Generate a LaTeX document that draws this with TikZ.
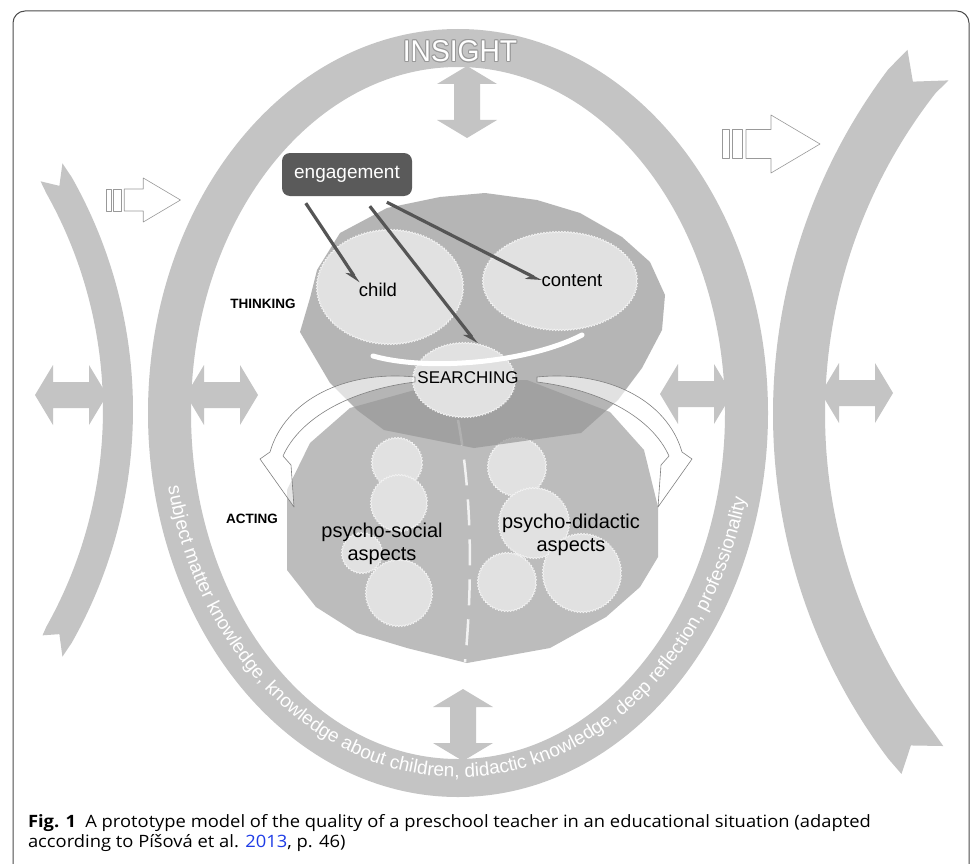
\documentclass[tikz,border=0pt]{standalone}
\usepackage{fontspec}
\setmainfont{Liberation Sans}
\newfontfamily\capfont{Open Sans}
\usetikzlibrary{arrows.meta,shapes.geometric,decorations.text,decorations.pathmorphing}
\definecolor{ringgray}{RGB}{196,196,196}
\definecolor{actgray}{RGB}{188,188,188}
\definecolor{thinkgray}{RGB}{150,150,150}
\definecolor{blobgray}{RGB}{225,225,225}
\definecolor{enggray}{RGB}{90,90,90}
\definecolor{barbgray}{RGB}{85,85,85}
\definecolor{linkblue}{RGB}{30,60,230}
\begin{document}
\begin{tikzpicture}[x=1pt,y=1pt,line join=round,>=Stealth]
\tikzset{
  blob/.style={ellipse, inner sep=0pt, fill=blobgray, draw=white!90!gray, line width=0.7pt,
    decorate, decoration={zigzag, segment length=3pt, amplitude=0.8pt}},
  lbl/.style={inner sep=0pt, font=\fontsize{18.5}{21}\selectfont},
  biglbl/.style={inner sep=0pt, align=center, font=\fontsize{20}{22.5}\selectfont},
  tag/.style={inner sep=0pt, font=\bfseries\fontsize{13.5}{16}\selectfont},
  engbox/.style={rounded corners=8pt, fill=enggray, text=white, minimum width=130pt,
    minimum height=43pt, font=\fontsize{19}{22}\selectfont},
  link/.style={draw=barbgray, line width=3.2pt, -{Stealth[harpoon,swap,length=13pt,width=11pt]}},
  swoop/.style={fill=white, fill opacity=0.6, draw=gray, line width=0.6pt},
  hollow/.style={fill=white, draw=gray!80, line width=0.6pt},
  insight/.style={inner sep=0pt, font=\fontsize{30}{32}\selectfont}
}
\useasboundingbox (0,0) rectangle (971,-864);
\fill[white] (0,0) rectangle (971,-864);
\draw[gray!60!black, line width=1pt, rounded corners=12pt] (13,-11) rectangle (969,-900);

% outer arcs
\fill[ringgray, shift={(-340,-410)}]
  (29.5:473pt) arc[start angle=29.5, end angle=-29.5, radius=473pt]
  -- (-31.5:472pt) -- (-29.3:458pt) -- (-30.5:444pt) -- (-29.3:443pt)
  arc[start angle=-29.3, end angle=29.3, radius=443pt]
  -- (31:444pt) -- (29.3:458pt) -- (31.5:472pt) -- cycle;
\fill[ringgray, shift={(1346,-414)}]
  (143:573pt) arc[start angle=143, end angle=217, radius=573pt]
  -- (219:572pt) -- (217.3:547pt) -- (219.5:522pt) -- (217.5:521pt)
  arc[start angle=217.5, end angle=142, radius=521pt]
  -- (140:519pt) -- (142.5:546pt) -- (140.3:570pt) -- cycle;

% ring
\fill[ringgray, even odd rule] (458,-413) ellipse [x radius=310pt, y radius=384pt]
  (458,-413) ellipse [x radius=267pt, y radius=346pt];

% double arrows
\foreach \cx/\cy/\r in {71/395/0, 222/395/0, 696/394/0, 857/393/0, 467/102/90, 463/725/90}
  \fill[ringgray, shift={(\cx,-\cy)}, rotate=\r] (-36,0) -- (-18,30) -- (-18,13) -- (18,13)
    -- (18,30) -- (36,0) -- (18,-30) -- (18,-13) -- (-18,-13) -- (-18,-30) -- cycle;

% hollow arrows
\foreach \ox/\oy/\s in {106/200/0.76, 722/144/1} {
  \begin{scope}[shift={(\ox,-\oy)}, scale=\s]
    \draw[hollow] (0,-14.5) rectangle (7,14.5);
    \draw[hollow] (10,-14.5) rectangle (20,14.5);
    \draw[hollow] (24,-14.5) -- (49,-14.5) -- (49,-29) -- (98,0) -- (49,29) -- (49,14.5)
      -- (24,14.5) -- cycle;
  \end{scope}
}

% acting
\fill[actgray] (440,-383) -- (527,-380) -- (610,-412) -- (644,-450) -- (658,-507)
  -- (658,-557) -- (640,-587) -- (606,-617) -- (550,-648) -- (467,-663) -- (407,-648)
  -- (357,-633) -- (316,-607) -- (287,-570) -- (287,-490) -- (310,-443) -- (350,-408) -- cycle;
\draw[white!90!gray, line width=2.5pt, dash pattern=on 26pt off 14pt]
  (458,-420) .. controls (473,-500) and (472,-590) .. (465,-662);
\foreach \bx/\by/\br in {397/463/25, 399/503/28, 362/553/20, 399/593/33,
  517/467/29, 534/523/35, 507/582/29, 582/573/39}
  \node[blob, minimum width=2*\br pt, minimum height=2*\br pt] at (\bx,-\by) {};

% thinking
\fill[thinkgray, fill opacity=0.7] (485,-193) -- (537,-200) -- (580,-213) -- (622,-237)
  -- (650,-262) -- (665,-295) -- (662,-330) -- (642,-368) -- (618,-400) -- (581,-433)
  -- (474,-448) -- (384,-430) -- (357,-410) -- (330,-383) -- (300,-332) -- (310,-298)
  -- (317,-270) -- (340,-233) -- (387,-208) -- (440,-197) -- cycle;
\node[blob, minimum width=146pt, minimum height=114pt] (childblob) at (390,-287) {};
\node[blob, minimum width=154pt, minimum height=98pt] (contentblob) at (560,-281) {};
\node[blob, minimum width=102pt, minimum height=74pt] (searchblob) at (464,-380) {};
\draw[white, line width=5pt, line cap=round]
  (373,-356) .. controls (430,-372) and (530,-362) .. (582,-335);

% curved arrows
\draw[swoop] (415,-377) .. controls (345,-370) and (285,-400) .. (270,-452)
  -- (260,-459) -- (294,-507) -- (291,-465) -- (283,-456)
  .. controls (300,-418) and (350,-390) .. (415,-382) -- cycle;
\draw[swoop] (537,-377) .. controls (607,-370) and (667,-400) .. (682,-452)
  -- (692,-459) -- (658,-507) -- (661,-465) -- (669,-456)
  .. controls (652,-418) and (602,-390) .. (537,-382) -- cycle;

% labels
\node[lbl] (child) at (378,-290) {child};
\node[lbl] (content) at (572,-281) {content};
\node[lbl, font=\fontsize{17}{20}\selectfont] (searching) at (468,-378) {SEARCHING};
\node[tag] (thinking) at (263,-304) {THINKING};
\node[tag] (acting) at (252,-519) {ACTING};
\node[biglbl] (social) at (382,-544) {psycho-social\\aspects};
\node[biglbl] (didactic) at (571,-535) {psycho-didactic\\aspects};

% engagement
\node[engbox] (eng) at (347,-174.5) {engagement};
\coordinate (e1) at ([xshift=24pt,yshift=-7pt]eng.south west);
\coordinate (e2) at ([xshift=88pt,yshift=-10pt]eng.south west);
\coordinate (e3) at ([xshift=105pt,yshift=-6pt]eng.south west);
\draw[link] (e1) -- (child.north west);
\draw[link] (e2) -- (searchblob.70);
\draw[link] (e3) -- (content.west);

% insight
\foreach \a in {0,45,...,315}
  \node[insight, text=gray!80, shift={(\a:1pt)}] at (460,-51) {\scalebox{0.94}[1]{INSIGHT}};
\node[insight, text=white] (insight) at (460,-51) {\scalebox{0.94}[1]{INSIGHT}};

% ring text
\path[decorate, decoration={text along path, text align=center, text color=white,
  text={|\fontsize{19}{21}\selectfont|subject matter knowledge, knowledge about children, didactic knowledge, deep reflection, professionality}}]
  (458,-413) ++(190.9:296pt and 364pt) arc[start angle=190.9, end angle=347.3, x radius=296pt, y radius=364pt];

% caption
\node[anchor=west, inner sep=0pt, align=left, xscale=1.08, transform shape,
  font=\capfont\fontsize{17}{19.5}\selectfont]
  (caption) at (27.8,-833) {\textbf{Fig. 1}\enspace A prototype model of the quality of a preschool teacher in an educational situation (adapted\\according to Píšová et al. \textcolor{linkblue}{2013}, p. 46)};
\end{tikzpicture}
\end{document}
